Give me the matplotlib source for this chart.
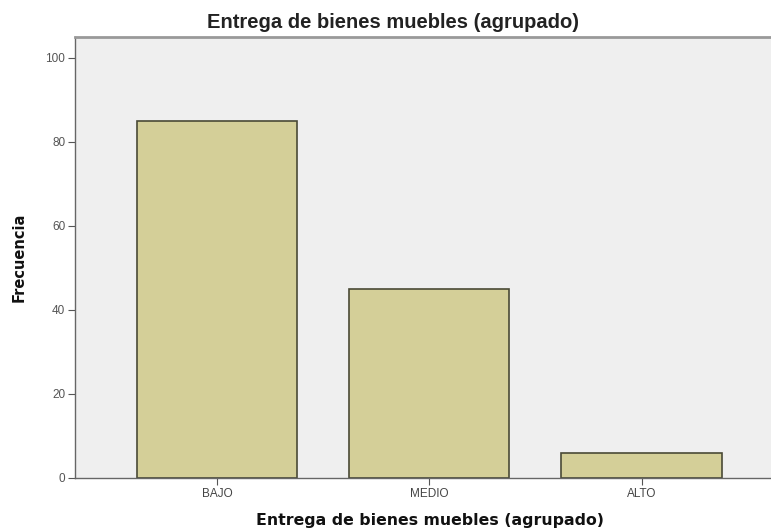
import matplotlib
matplotlib.use("Agg")
import matplotlib.pyplot as plt

plt.rcParams["font.family"] = ["Liberation Sans", "DejaVu Sans"]

categories = ["BAJO", "MEDIO", "ALTO"]
frecuencia = [85, 45, 6]
yticks = [0, 20, 40, 60, 80, 100]

fig = plt.figure(figsize=(7.71, 5.29), dpi=100)
fig.patch.set_facecolor("white")
ax = fig.add_axes([75 / 771, 1 - 478 / 529, 1 - 75 / 771, (478 - 37) / 529])
ax.set_facecolor("#efefef")

x = list(range(len(categories)))
ax.bar(x, frecuencia, width=0.755, color="#d4cf98", edgecolor="#4a4a36", linewidth=1.2, zorder=2)

ax.set_xlim(-0.67, 2.61)
ax.set_ylim(0, 105)
ax.set_xticks(x)
ax.set_xticklabels(categories, fontsize=8.5, color="#444444")
ax.set_yticks(yticks)
ax.set_yticklabels([str(v) for v in yticks], fontsize=8.5, color="#555555")
ax.tick_params(axis="both", direction="out", length=5, width=0.8, color="#555555", pad=2)

for side in ["left", "bottom"]:
    ax.spines[side].set_color("#666666")
    ax.spines[side].set_linewidth(1.0)
ax.spines["top"].set_color("#999999")
ax.spines["top"].set_linewidth(2.0)
ax.spines["right"].set_visible(False)

ax.set_ylabel("Frecuencia", fontsize=10.5, fontweight="bold", family="DejaVu Sans", color="#111111")
ax.yaxis.set_label_coords(-48 / 696, 0.5)

fig.text(393 / 771, 1 - 22 / 529, "Entrega de bienes muebles (agrupado)",
         ha="center", va="center", fontsize=14.5, fontweight="bold", color="#222222")
fig.text(430 / 771, 1 - 521 / 529, "Entrega de bienes muebles (agrupado)",
         ha="center", va="center", fontsize=11.3, fontweight="bold", family="DejaVu Sans",
         color="#111111")

fig.savefig("out.png", dpi=100)
